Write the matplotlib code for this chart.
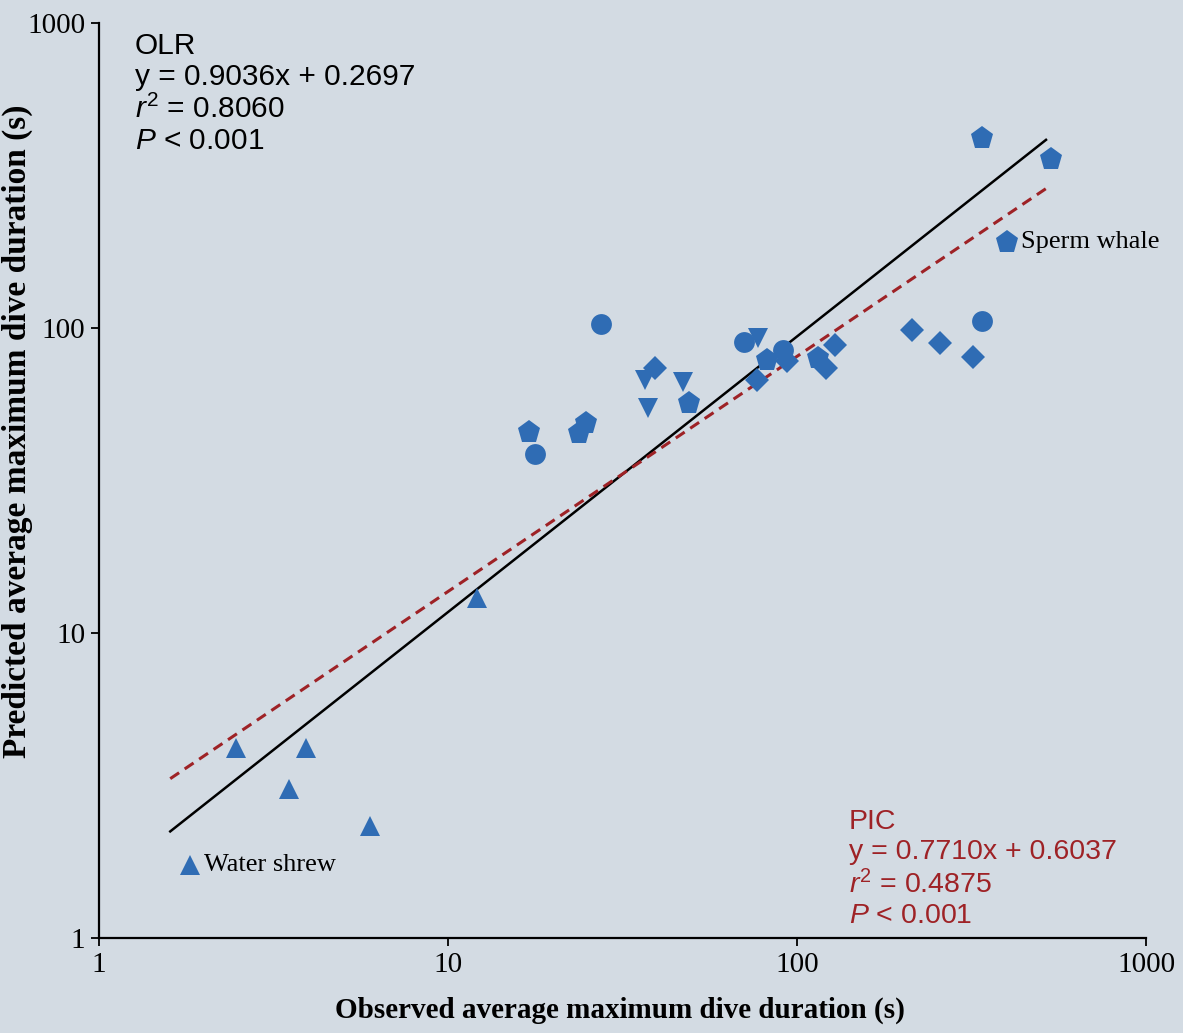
import matplotlib
matplotlib.use("Agg")
import matplotlib.pyplot as plt
import numpy as np

plt.rcParams['font.family'] = ['Liberation Serif', 'DejaVu Serif']
plt.rcParams['mathtext.fontset'] = 'custom'
plt.rcParams['mathtext.rm'] = 'Liberation Sans'
plt.rcParams['mathtext.it'] = 'Liberation Sans:italic'

# observed (x) vs predicted (y) average maximum dive duration, seconds
tri_up_x = [1.82, 2.47, 3.50, 3.92, 5.98, 12.1]
tri_up_y = [1.74, 4.20, 3.08, 4.20, 2.33, 13.0]

tri_down_x = [36.7, 37.4, 47.1, 77.3]
tri_down_y = [67.5, 54.7, 66.5, 92.8]

diamond_x = [39.2, 76.8, 93.6, 121.1, 128.5, 213.5, 256.9, 319.4]
diamond_y = [73.9, 67.5, 78.0, 73.9, 88.0, 98.5, 89.3, 80.3]

circle_x = [27.4, 17.8, 70.5, 91.2, 338.9]
circle_y = [103.1, 38.6, 90.0, 84.7, 105.4]

penta_x = [17.1, 23.7, 24.9, 49.0, 82.0, 114.9, 338.9, 534.4, 399.7]
penta_y = [45.6, 45.3, 48.8, 56.8, 78.6, 79.7, 419.8, 358.2, 191.4]

# labelled species
shrew = (1.82, 1.74)
whale = (399.7, 191.4)

# fitted lines (log10 space): slopes as reported, offsets where drawn
olr_slope, olr_offset = 0.9036, 0.165
pic_slope, pic_offset = 0.7710, 0.365
fit_x = [1.6, 517.0]

ticks = [1, 10, 100, 1000]
tick_labels = ['1', '10', '100', '1000']

blue = '#2f6cb4'
red = '#9e2226'
bg = '#d3dbe3'

fig = plt.figure(figsize=(11.83, 10.33), dpi=100, facecolor=bg)
ax = fig.add_axes([99 / 1183, 95 / 1033, 1047 / 1183, 915 / 1033])
ax.set_facecolor(bg)
ax.set_xscale('log')
ax.set_yscale('log')
ax.set_xlim(1, 1000)
ax.set_ylim(1, 1000)

lx = np.array(fit_x)
ax.plot(lx, 10 ** (olr_offset + olr_slope * np.log10(lx)), color='black', lw=1.8, zorder=2)
ax.plot(lx, 10 ** (pic_offset + pic_slope * np.log10(lx)), color=red, lw=2.2,
        linestyle=(0, (3.5, 2.2)), zorder=2)

mk = dict(linestyle='none', color=blue, markeredgewidth=0, zorder=3)
ax.plot(tri_up_x, tri_up_y, marker='^', markersize=15, **mk)
ax.plot(tri_down_x, tri_down_y, marker='v', markersize=15, **mk)
ax.plot(diamond_x, diamond_y, marker='D', markersize=12.5, **mk)
ax.plot(circle_x, circle_y, marker='o', markersize=15, **mk)
ax.plot(penta_x, penta_y, marker='p', markersize=17, **mk)

ax.annotate('Water shrew', xy=shrew, xytext=(10, 0), textcoords='offset points',
            fontsize=19, va='center', ha='left')
ax.annotate('Sperm whale', xy=whale, xytext=(10, 0), textcoords='offset points',
            fontsize=19, va='center', ha='left')

sans = ['Liberation Sans', 'DejaVu Sans']
ax.text(0.034, 0.99, 'OLR\ny = 0.9036x + 0.2697\n$r^{2}$ = 0.8060\n$P$ < 0.001',
        transform=ax.transAxes, family=sans, fontsize=21.5, va='top', ha='left',
        linespacing=1.14, color='black')
ax.text(0.716, 0.141, 'PIC\ny = 0.7710x + 0.6037\n$r^{2}$ = 0.4875\n$P$ < 0.001',
        transform=ax.transAxes, family=sans, fontsize=20.5, va='top', ha='left',
        linespacing=1.2, color=red)

ax.set_xticks(ticks)
ax.set_xticklabels(tick_labels)
ax.set_yticks(ticks)
ax.set_yticklabels(tick_labels)
ax.minorticks_off()
ax.tick_params(direction='out', length=6, width=1.3, labelsize=21, pad=4)

for s in ['top', 'right']:
    ax.spines[s].set_visible(False)
for s in ['left', 'bottom']:
    ax.spines[s].set_linewidth(1.6)

ax.set_xlabel('Observed average maximum dive duration (s)', fontsize=21,
              fontweight='bold')
ax.xaxis.set_label_coords(0.498, -0.064)
ax.set_ylabel('Predicted average maximum dive duration (s)', fontsize=24,
              fontweight='bold')
ax.yaxis.set_label_coords(-0.063, 0.554)

fig.savefig('out.png', dpi=100, facecolor=bg)
